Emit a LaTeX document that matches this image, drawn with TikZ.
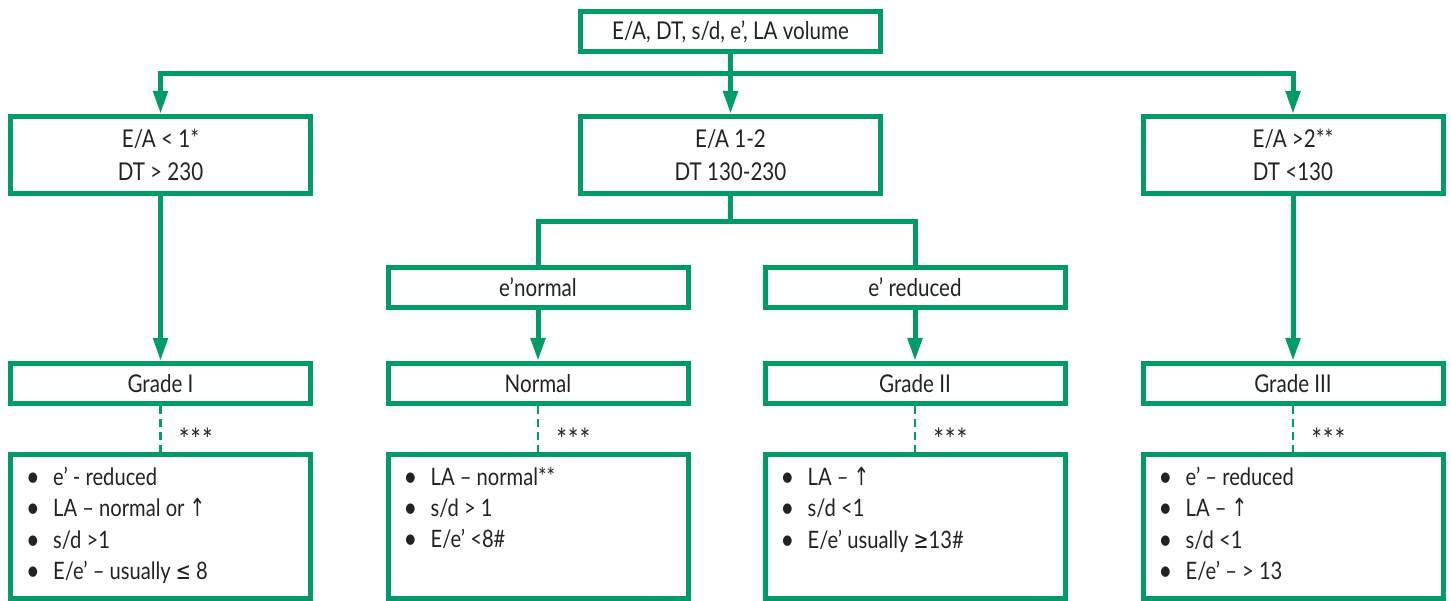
\documentclass[tikz,border=0pt]{standalone}
\usepackage{fontspec}
\setmainfont{Lato}[FakeStretch=0.84]
\newfontfamily\symf{DejaVu Sans}[FakeStretch=0.75]
\usetikzlibrary{arrows.meta,positioning}
\definecolor{grn}{RGB}{0,155,105}
\definecolor{txt}{RGB}{35,35,35}
\newcommand\upar{{\symf\fontsize{25}{25}\selectfont ↑}}
\newcommand\bitem{\makebox[27pt][l]{\raisebox{-1pt}{\fontsize{28}{28}\selectfont\textbullet}}}
\begin{document}
\begin{tikzpicture}[x=1pt,y=-1pt,
  box/.style={draw=grn,line width=5pt,minimum width=300pt,inner sep=0pt,text=txt,
    font=\fontsize{24.5}{33}\selectfont,align=center},
  smallbox/.style={box,minimum height=40pt},
  bigbox/.style={box,minimum height=77pt},
  listbox/.style={box,minimum height=144pt},
  conn/.style={draw=grn,line width=5pt},
  arr/.style={conn,-{Triangle[length=23pt,width=14pt]}},
  dsh/.style={draw=grn,line width=2.5pt,dash pattern=on 8pt off 5pt},
  star/.style={text=txt,font=\fontsize{30}{30}\selectfont,anchor=west,inner sep=0pt},
  lst/.style={text=txt,font=\fontsize{24}{31.3}\selectfont,align=left,anchor=north west,inner sep=0pt}
]
\useasboundingbox (0,0) rectangle (1451,601);
% top
\node[smallbox] (top) at (730.5,31.5) {E/A, DT, s/d, e’, LA volume};
% row 1
\node[bigbox] (r1l) at (160.5,155) {E/A {<} 1*\\DT {>} 230};
\node[bigbox] (r1m) at (730.5,155) {E/A 1-2\\DT 130-230};
\node[bigbox] (r1r) at (1293,155) {E/A >2**\\DT <130};
% row 2
\node[smallbox] (en) at (538,287.5) {e’normal};
\node[smallbox] (er) at (915,287.5) {e’ reduced};
% row 3
\node[smallbox] (g1) at (160.5,383.5) {Grade I};
\node[smallbox] (g0) at (538,383.5) {Normal};
\node[smallbox] (g2) at (915,383.5) {Grade II};
\node[smallbox] (g3) at (1293,383.5) {Grade III};
% bottom boxes
\node[listbox] (b1) at (160.5,526.5) {};
\node[listbox] (b0) at (538,526.5) {};
\node[listbox] (b2) at (915,526.5) {};
\node[listbox] (b3) at (1293,526.5) {};
% lists
\node[lst] (l1) at ([xshift=18pt,yshift=-15pt]b1.north west) {\bitem e’ - reduced\\\bitem LA – normal or \upar\\\bitem s/d >1\\\bitem E/e’ – usually {\symf ≤} 8};
\node[lst] (l0) at ([xshift=18pt,yshift=-15pt]b0.north west) {\bitem LA – normal**\\\bitem s/d > 1\\\bitem E/e’ <8\#};
\node[lst] (l2) at ([xshift=18pt,yshift=-15pt]b2.north west) {\bitem LA – \upar\\\bitem s/d <1\\\bitem E/e’ usually {\symf ≥}13\#};
\node[lst] (l3) at ([xshift=18pt,yshift=-15pt]b3.north west) {\bitem e’ – reduced\\\bitem LA – \upar\\\bitem s/d <1\\\bitem E/e’ – > 13};
% connectors
\coordinate (h) at (730.5,73.5);
\coordinate (j) at (730.5,222);
\draw[arr] (h) -| (r1l.north);
\draw[arr] (h) -| (r1r.north);
\draw[arr] (top.south) -- (r1m.north);
\draw[conn] (r1m.south) -- (j);
\draw[conn] (j) -| (en.north);
\draw[conn] (j) -| (er.north);
\draw[arr] (r1l.south) -- (g1.north);
\draw[arr] (en.south) -- (g0.north);
\draw[arr] (er.south) -- (g2.north);
\draw[arr] (r1r.south) -- (g3.north);
% dashed
\draw[dsh] (g1.south) -- (b1.north) node[star,pos=0.5,xshift=17pt,yshift=-10pt] (s1) {*\kern1pt*\kern1pt*};
\draw[dsh] (g0.south) -- (b0.north) node[star,pos=0.5,xshift=17pt,yshift=-10pt] (s0) {*\kern1pt*\kern1pt*};
\draw[dsh] (g2.south) -- (b2.north) node[star,pos=0.5,xshift=17pt,yshift=-10pt] (s2) {*\kern1pt*\kern1pt*};
\draw[dsh] (g3.south) -- (b3.north) node[star,pos=0.5,xshift=17pt,yshift=-10pt] (s3) {*\kern1pt*\kern1pt*};
\end{tikzpicture}
\end{document}
